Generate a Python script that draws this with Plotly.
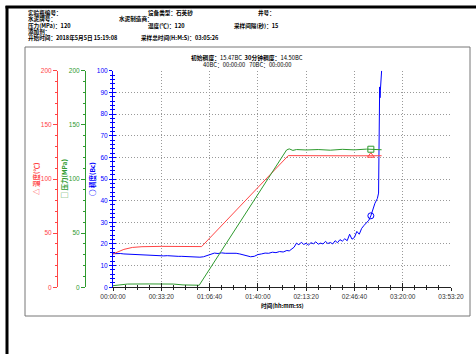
import plotly.graph_objects as go

W, H = 476, 354

# ---------------- data ----------------
x_tickvals = [0, 2000, 4000, 6000, 8000, 10000, 12000, 14000]
x_ticktext = ["00:00:00", "00:33:20", "01:06:40", "01:40:00", "02:13:20", "02:46:40", "03:20:00", "03:53:20"]

bc_time = [0, 150, 300, 450, 600, 750, 900, 1050, 1200, 1350, 1500, 1650, 1800, 1950, 2100, 2250,
           2400, 2550, 2700, 2850, 3000, 3150, 3300, 3450, 3600, 3750, 3900, 4050, 4200, 4350, 4500,
           4650, 4800, 4950, 5100, 5250, 5400, 5550, 5700, 5850, 6000, 6150, 6300, 6450, 6600, 6750,
           6900, 7050, 7200, 7300, 7400, 7500, 7600, 7700, 7800, 7900, 8000, 8100, 8200, 8300, 8400,
           8500, 8600, 8700, 8800, 8900, 9000, 9100, 9200, 9300, 9400, 9500, 9600, 9700, 9800, 9900,
           10000, 10100, 10200, 10300, 10400, 10500, 10600, 10680, 10750, 10850, 10950, 11000, 11015,
           11030, 11045, 11060, 11075, 11090, 11105, 11126]
bc_value = [15.5, 15.6, 15.6, 15.4, 15.3, 15.2, 15.1, 15.0, 14.9, 14.9, 14.8, 14.7, 14.6, 14.6, 14.5, 14.6,
            14.4, 14.4, 14.3, 14.3, 14.2, 14.1, 14.0, 14.0, 13.9, 14.1, 14.6, 15.4, 15.8, 15.6, 15.9,
            15.7, 15.8, 15.6, 15.7, 15.4, 15.0, 14.5, 14.1, 14.3, 15.1, 15.4, 15.8, 15.7, 16.2, 16.0,
            16.5, 16.3, 17.0, 16.8, 17.6, 18.5, 20.4, 19.6, 20.8, 19.8, 20.3, 19.5, 20.6, 20.1, 21.0,
            19.9, 20.4, 20.0, 21.2, 20.2, 20.7, 20.0, 21.5, 20.6, 22.0, 21.3, 22.4, 21.5, 24.5, 22.2,
            23.0, 25.8, 24.5, 27.2, 28.6, 29.9, 31.0, 33.0, 35.5, 38.8, 41.0, 43.5, 60.0,
            82.0, 92.5, 87.5, 91.0, 94.0, 97.0, 100.0]

temp_time = [0, 200, 450, 800, 1200, 2000, 3000, 3670, 7260, 8000, 9000, 10000, 11126]
temp_value = [30.8, 32.8, 35.0, 36.8, 37.5, 37.8, 37.8, 37.6, 121.6, 121.4, 121.5, 121.4, 121.5]

pres_time = [0, 300, 600, 1500, 2500, 2900, 3200, 3570, 7190, 7300, 7450, 7600, 8000, 8500, 9000,
             9500, 10000, 10500, 11126]
pres_value = [1.5, 2.5, 3.0, 3.1, 3.0, 2.2, 1.9, 1.9, 126.8, 127.8, 126.4, 127.2, 126.8, 127.2, 126.6,
              127.4, 126.9, 127.6, 127.0]

marker_time = [10680]
marker_bc = [33.0]
marker_temp = [121.5]
marker_pres = [127.5]

header_lines = [
    ("实验瓶编号：", 27, 13), ("设备类型：石英砂", 147, 13), ("井号：", 257, 13),
    ("水泥牌号：", 27, 19.3), ("水泥制造商：", 118, 19.3),
    ("压力(MPa)：120", 27, 25.6), ("温度(℃)：120", 147, 25.6), ("采样间隔(秒)：15", 233, 25.6),
    ("添加剂：", 27, 31.9),
    ("开始时间：2018年5月5日 15:19:08", 27, 38.2), ("采样总时间(H:M:S)：03:05:26", 140, 38.2),
]

RED = "#ff4545"
GREEN = "#2e9a2e"
BLUE = "#0000ff"
GRID = "#999999"

def px(x):
    return x / W

def py(y):
    return 1 - y / H

xdom = [px(113), px(451)]
ydom = [py(287.3), py(70.7)]

fig = go.Figure()
fig.add_trace(go.Scatter(x=temp_time, y=temp_value, mode="lines", line=dict(color=RED, width=1),
                         yaxis="y2", showlegend=False, hoverinfo="skip"))
fig.add_trace(go.Scatter(x=pres_time, y=pres_value, mode="lines", line=dict(color=GREEN, width=1),
                         yaxis="y3", showlegend=False, hoverinfo="skip"))
fig.add_trace(go.Scatter(x=bc_time, y=bc_value, mode="lines", line=dict(color=BLUE, width=1),
                         yaxis="y", showlegend=False, hoverinfo="skip"))
fig.add_trace(go.Scatter(x=marker_time, y=marker_temp, mode="markers", yaxis="y2", showlegend=False,
                         marker=dict(symbol="triangle-up-open", size=6, color=RED, line=dict(width=1))))
fig.add_trace(go.Scatter(x=marker_time, y=marker_pres, mode="markers", yaxis="y3", showlegend=False,
                         marker=dict(symbol="square-open", size=6, color=GREEN, line=dict(width=1))))
fig.add_trace(go.Scatter(x=marker_time, y=marker_bc, mode="markers", yaxis="y", showlegend=False,
                         marker=dict(symbol="circle-open", size=6, color=BLUE, line=dict(width=1))))
# invisible traces so the inside-tick companion axes get drawn
fig.add_trace(go.Scatter(x=[None], y=[None], xaxis="x2", yaxis="y", showlegend=False))
fig.add_trace(go.Scatter(x=[None], y=[None], xaxis="x", yaxis="y4", showlegend=False))

tickfont = dict(family="Liberation Sans", size=6.5)
GDASH = "1px,2px"

fig.update_layout(
    template="none",
    width=W, height=H, margin=dict(l=0, r=0, t=0, b=0, pad=0, autoexpand=False),
    paper_bgcolor="white", plot_bgcolor="white", showlegend=False,
    xaxis=dict(domain=xdom, range=[0, 14000], anchor="y", tickmode="array", tickvals=x_tickvals,
               ticktext=x_ticktext, ticks="outside", ticklen=3, tickcolor="#222", showline=True,
               linecolor="#222", linewidth=1, showgrid=True, gridcolor=GRID, griddash=GDASH,
               gridwidth=1, zeroline=False, tickfont=dict(tickfont, color="#333"), automargin=False,
               minor=dict(dtick=500, tick0=0, ticks="outside", ticklen=2, tickcolor="#222", showgrid=False)),
    xaxis2=dict(domain=xdom, range=[0, 14000], anchor="y", overlaying="x", tickmode="array",
                tickvals=x_tickvals, ticks="inside", ticklen=4, tickcolor="#222", showticklabels=False,
                showgrid=False, zeroline=False, showline=False, automargin=False,
                minor=dict(dtick=500, tick0=0, ticks="inside", ticklen=2, tickcolor="#222", showgrid=False)),
    yaxis=dict(domain=ydom, range=[0, 100], anchor="x", dtick=10, ticks="outside", ticklen=3,
               tickcolor=BLUE, showline=True, linecolor=BLUE, linewidth=1, showgrid=True,
               gridcolor=GRID, griddash=GDASH, gridwidth=1, zeroline=False, automargin=False,
               tickfont=dict(tickfont, color=BLUE),
               minor=dict(dtick=2, ticks="outside", ticklen=2, tickcolor=BLUE, showgrid=False)),
    yaxis4=dict(domain=ydom, range=[0, 100], anchor="x", overlaying="y", dtick=10, ticks="inside",
                ticklen=3, tickcolor=BLUE, showticklabels=False, showgrid=False, zeroline=False,
                showline=False, automargin=False,
                minor=dict(dtick=2, ticks="inside", ticklen=2, tickcolor=BLUE, showgrid=False)),
    yaxis2=dict(domain=ydom, range=[0, 200], anchor="free", overlaying="y", position=px(57), side="left",
                dtick=50, ticks="outside", ticklen=4, tickcolor=RED, showline=True, linecolor=RED,
                showgrid=False, zeroline=False, tickfont=dict(tickfont, color=RED), automargin=False,
                minor=dict(dtick=10, ticks="outside", ticklen=2, tickcolor=RED, showgrid=False)),
    yaxis3=dict(domain=ydom, range=[0, 200], anchor="free", overlaying="y", position=px(85), side="left",
                dtick=50, ticks="outside", ticklen=4, tickcolor=GREEN, showline=True, linecolor=GREEN,
                showgrid=False, zeroline=False, tickfont=dict(tickfont, color=GREEN), automargin=False,
                minor=dict(dtick=10, ticks="outside", ticklen=2, tickcolor=GREEN, showgrid=False)),
)

shapes = [
    dict(type="rect", xref="paper", yref="paper", x0=px(25), x1=px(470), y0=py(316), y1=py(47),
         line=dict(color="#777", width=1), fillcolor="rgba(0,0,0,0)", layer="below"),
    dict(type="line", xref="paper", yref="paper", x0=px(7), x1=px(7), y0=py(6), y1=py(360),
         line=dict(color="black", width=3)),
    dict(type="line", xref="paper", yref="paper", x0=px(5.5), x1=px(480), y0=py(7), y1=py(7),
         line=dict(color="black", width=3)),
]
fig.update_layout(shapes=shapes)

bold = dict(family="Noto Sans CJK SC", size=5.6, color="black", weight="bold")
ann = []
for txt, x, y in header_lines:
    ann.append(dict(text=txt, xref="paper", yref="paper", x=px(x), y=py(y), xanchor="left",
                    yanchor="middle", showarrow=False, font=bold, borderpad=0))
ann.append(dict(text="<b>初始稠度：</b>15.47BC  <b>30分钟稠度：</b>14.50BC", xref="paper", yref="paper",
                x=px(247), y=py(57.5), xanchor="center", yanchor="middle", showarrow=False, borderpad=0,
                font=dict(family="Noto Sans CJK SC", size=5.8, color="black")))
ann.append(dict(text="40BC：00:00:00   70BC：00:00:00", xref="paper", yref="paper",
                x=px(247), y=py(64), xanchor="center", yanchor="middle", showarrow=False, borderpad=0,
                font=dict(family="Noto Sans CJK SC", size=5.8, color="black")))
ann.append(dict(text="时间(hh:mm:ss)", xref="paper", yref="paper", x=px(282), y=py(306),
                xanchor="center", yanchor="middle", showarrow=False, font=bold, borderpad=0))
for txt, x, col in [("△ 温度(℃)", 36, RED), ("□ 压力(MPa)", 63.5, GREEN), ("○ 稠度(Bc)", 92, BLUE)]:
    ann.append(dict(text=txt, xref="paper", yref="paper", x=px(x), y=py(179), xanchor="center",
                    yanchor="middle", textangle=-90, showarrow=False, borderpad=0,
                    font=dict(family="Noto Sans CJK SC", size=6.5, color=col, weight="bold")))
fig.update_layout(annotations=ann)

fig.write_html("out.html", config={"displayModeBar": False, "staticPlot": True},
               post_script="document.body.style.margin='0px';document.body.style.overflow='hidden';")
